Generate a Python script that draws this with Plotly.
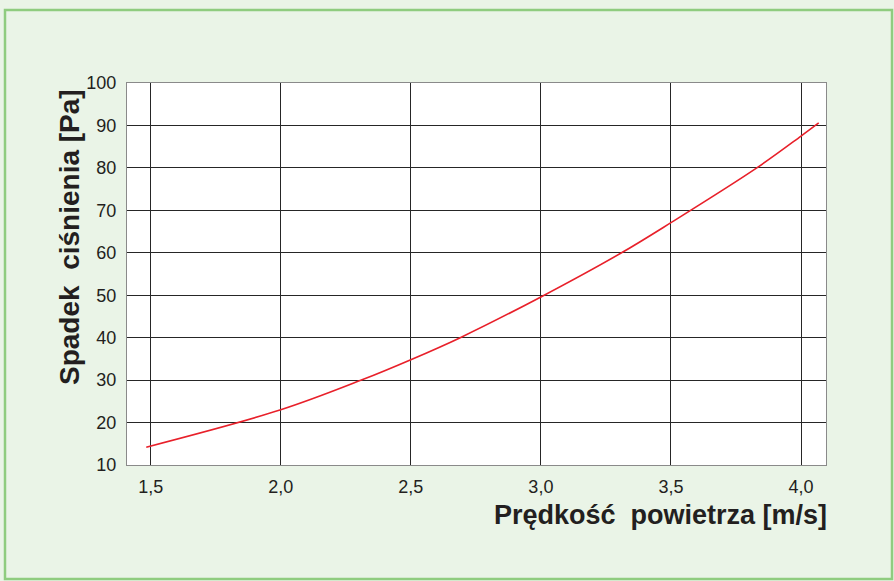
import plotly.graph_objects as go

# Data
velocity = [1.483, 2.0, 2.31, 2.5, 2.69, 3.0, 3.31, 3.5, 3.83, 4.0, 4.068]
pressure_drop = [14.2, 23.0, 30.0, 34.8, 40.0, 49.6, 60.0, 67.1, 80.0, 87.5, 90.6]

x_tickvals = [1.5, 2.0, 2.5, 3.0, 3.5, 4.0]
x_ticktext = ["1,5", "2,0", "2,5", "3,0", "3,5", "4,0"]
y_tickvals = [10, 20, 30, 40, 50, 60, 70, 80, 90, 100]

x_title = "Prędkość\u00a0\u00a0powietrza [m/s]"
y_title = "Spadek\u00a0\u00a0ciśnienia [Pa]"

W, H = 894, 581
ML, MR, MT, MB = 127, 68, 83, 116
PW, PH = W - ML - MR, H - MT - MB

def px(x):
    return (x - ML) / PW

def py(y):
    return (H - MB - y) / PH

fig = go.Figure()
fig.add_trace(go.Scatter(
    x=velocity, y=pressure_drop, mode="lines",
    line=dict(color="#E8202A", width=1.6, shape="spline", smoothing=1.0),
    hoverinfo="x+y", showlegend=False,
))

font_family = "Liberation Sans, Arial, sans-serif"
tick_color = "#231F20"

fig.update_layout(
    width=W, height=H,
    margin=dict(l=ML, r=MR, t=MT, b=MB),
    paper_bgcolor="#EAF4E7",
    plot_bgcolor="#FFFFFF",
    font=dict(family=font_family, color=tick_color, size=18),
    xaxis=dict(
        range=[1.409, 4.096],
        tickvals=x_tickvals, ticktext=x_ticktext,
        showgrid=True, gridcolor="#262626", gridwidth=1.4,
        showline=True, linecolor="#8a8a8a", linewidth=1.2, mirror=True,
        ticks="", ticklabelstandoff=5,
        tickfont=dict(size=18, color=tick_color),
        zeroline=False, fixedrange=True,
    ),
    yaxis=dict(
        range=[10, 100],
        tickvals=y_tickvals,
        showgrid=True, gridcolor="#262626", gridwidth=1.4,
        showline=True, linecolor="#8a8a8a", linewidth=1.2, mirror=True,
        ticks="", ticklabelstandoff=6,
        tickfont=dict(size=18, color=tick_color),
        zeroline=False, fixedrange=True,
    ),
    shapes=[dict(
        type="rect", xref="paper", yref="paper",
        x0=px(5), x1=px(892), y0=py(579), y1=py(10),
        line=dict(color="#8FCC7F", width=2.5), fillcolor="rgba(0,0,0,0)",
        layer="below",
    )],
    annotations=[
        dict(text=x_title, xref="paper", yref="paper",
             x=px(829), y=py(515), xanchor="right", yanchor="middle",
             showarrow=False, font=dict(size=27, color=tick_color, family=font_family, weight="bold")),
        dict(text=y_title, xref="paper", yref="paper",
             x=px(69), y=py(237), xanchor="center", yanchor="middle", textangle=-90,
             showarrow=False, font=dict(size=28, color=tick_color, family=font_family, weight="bold")),
    ],
)

fig.write_html("out.html", config={"displayModeBar": False},
               post_script="document.body.style.margin='0';document.body.style.padding='0';")
